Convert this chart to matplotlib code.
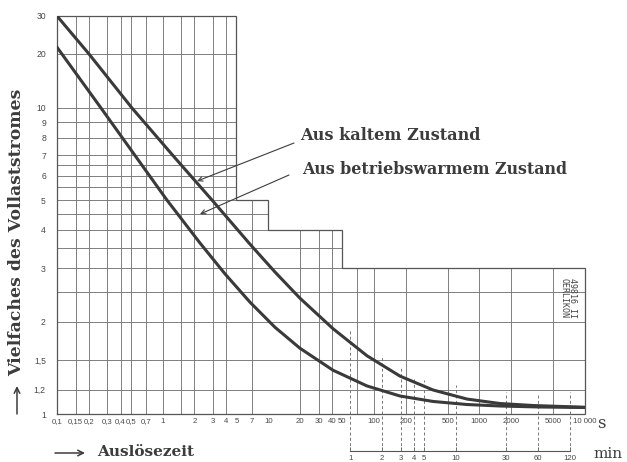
import numpy as np
import matplotlib
matplotlib.use("Agg")
import matplotlib.pyplot as plt
from matplotlib.ticker import FixedLocator, FixedFormatter, NullLocator

# trip time (s) vs multiple of full-load current
t_cold = [0.1, 0.201, 0.513, 1.31, 2.94, 6.72, 11.6, 20.0, 41.1, 86.2, 177, 364, 763,
          1567, 3219, 10000]
i_cold = [30, 20, 10, 6.87, 5.0, 3.59, 2.91, 2.39, 1.90, 1.55, 1.33, 1.198, 1.119,
          1.082, 1.066, 1.052]
t_warm = [0.1, 0.261, 1.10, 2.26, 3.90, 6.72, 11.6, 20.0, 41.1, 86.2, 177, 364, 763,
          1567, 3750, 10000]
i_warm = [21.5, 10, 5.0, 3.62, 2.87, 2.32, 1.92, 1.64, 1.39, 1.235, 1.145, 1.099, 1.074,
          1.062, 1.054, 1.050]

# staircase-shaped grid: region edges (s) and the top of each region
edges = [0.1, 5, 10, 50, 10000]
tops = [30, 5, 4, 3]
x_grid = [0.15, 0.2, 0.3, 0.4, 0.5, 0.7, 1, 1.5, 2, 3, 4, 7, 20, 30, 40, 70,
          100, 200, 500, 1000, 2000, 5000]
y_grid = [1.2, 1.5, 2, 2.5, 3, 3.5, 4, 4.5, 5, 5.5, 6, 6.5, 7, 8, 9, 10, 20]

x_ticks = [0.1, 0.15, 0.2, 0.3, 0.4, 0.5, 0.7, 1, 2, 3, 4, 5, 7, 10, 20, 30, 40, 50,
           100, 200, 500, 1000, 2000, 5000, 10000]
x_labels = ["0,1", "0,15", "0,2", "0,3", "0,4", "0,5", "0,7", "1", "2", "3", "4", "5",
            "7", "10", "20", "30", "40", "50", "100", "200", "500", "1000", "2000",
            "5000", "10 000"]
y_ticks = [1, 1.2, 1.5, 2, 3, 4, 5, 6, 7, 8, 9, 10, 20, 30]
y_labels = ["1", "1,2", "1,5", "2", "3", "4", "5", "6", "7", "8", "9", "10", "20", "30"]

# minute scale below the seconds scale
minutes = [1, 2, 3, 4, 5, 10, 30, 60, 120]
minute_labels = ["1", "2", "3", "4", "5", "10", "30", "60", "120"]
minute_line_tops = [1.88, 1.56, 1.41, 1.32, 1.29, 1.24, 1.18, 1.17, 1.18]

# the printed current scale is logarithmic up to 10, compressed above
scale_log = np.log10([1, 10, 20, 30])
scale_pos = np.array([0, 306, 360, 398], float)
HI_SLOPE = (scale_pos[-1] - scale_pos[-2]) / (scale_log[-1] - scale_log[-2])


def y_forward(v):
    lv = np.log10(np.clip(np.asarray(v, float), 1e-6, None))
    out = np.interp(lv, scale_log, scale_pos)
    out = np.where(lv < 0, lv * 306, out)
    return np.where(lv > scale_log[-1], scale_pos[-1] + (lv - scale_log[-1]) * HI_SLOPE, out)


def y_inverse(p):
    p = np.asarray(p, float)
    lv = np.interp(p, scale_pos, scale_log)
    lv = np.where(p < 0, p / 306, lv)
    lv = np.where(p > scale_pos[-1], scale_log[-1] + (p - scale_pos[-1]) / HI_SLOPE, lv)
    return 10 ** lv


def top_at(x):
    t = 0
    for lo, hi, top in zip(edges[:-1], edges[1:], tops):
        if lo <= x <= hi:
            t = max(t, top)
    return t


def right_end(level):
    r = edges[0]
    for hi, top in zip(edges[1:], tops):
        if top >= level:
            r = hi
    return r


W, H = 627, 462
fig = plt.figure(figsize=(W / 100, H / 100), dpi=100)
fig.patch.set_facecolor("white")

left, right, top, bottom = 57, 585, 16, 414
ax = fig.add_axes([left / W, 1 - bottom / H, (right - left) / W, (bottom - top) / H])
ax.set_xscale("log")
ax.set_yscale("function", functions=(y_forward, y_inverse))
ax.set_xlim(edges[0], edges[-1])
ax.set_ylim(1, tops[0])
for s in ax.spines.values():
    s.set_visible(False)
ax.patch.set_alpha(0)

grid_c = "#767676"
curve_c = "#3a3a3a"
text_c = "#3c3c3c"

# grid
ax.vlines(x_grid, 1, [top_at(x) for x in x_grid], color=grid_c, lw=0.65)
ax.hlines(y_grid, edges[0], [right_end(y) for y in y_grid], color=grid_c, lw=0.65)

# staircase outline
ox, oy = [edges[0]], [1]
for lo, hi, t in zip(edges[:-1], edges[1:], tops):
    ox += [lo, hi]
    oy += [t, t]
ox += [edges[-1], edges[0]]
oy += [1, 1]
ax.plot(ox, oy, color="#555555", lw=0.9, clip_on=False, solid_joinstyle="miter")

# dashed minute marks
min_s = [m * 60 for m in minutes]
ax.vlines(min_s, 1, minute_line_tops, color=grid_c, lw=0.7, linestyles=(0, (3, 2.5)),
          clip_on=False)

# curves
ax.plot(t_cold, i_cold, color=curve_c, lw=2.2, solid_joinstyle="round")
ax.plot(t_warm, i_warm, color=curve_c, lw=2.2, solid_joinstyle="round")

# ticks
ax.xaxis.set_major_locator(FixedLocator(x_ticks))
ax.xaxis.set_major_formatter(FixedFormatter(x_labels))
ax.xaxis.set_minor_locator(NullLocator())
ax.yaxis.set_major_locator(FixedLocator(y_ticks))
ax.yaxis.set_major_formatter(FixedFormatter(y_labels))
ax.yaxis.set_minor_locator(NullLocator())
ax.tick_params(axis="both", length=0, labelcolor="#484848")
ax.tick_params(axis="x", pad=3, labelsize=5.6)
ax.tick_params(axis="y", pad=8, labelsize=6.2)
for lab in ax.get_xticklabels() + ax.get_yticklabels():
    lab.set_family("Liberation Sans")

# minute axis
axm = fig.add_axes([left / W, 1 - 451 / H, (right - left) / W, (451 - bottom) / H])
axm.set_xscale("log")
axm.set_xlim(edges[0], edges[-1])
axm.set_ylim(0, 1)
axm.patch.set_alpha(0)
for k in ["top", "left", "right"]:
    axm.spines[k].set_visible(False)
axm.spines["bottom"].set_bounds(min_s[0], min_s[-1])
axm.spines["bottom"].set_color("#555555")
axm.spines["bottom"].set_linewidth(0.8)
axm.vlines(min_s, 0, 1, color=grid_c, lw=0.7, linestyles=(0, (3, 2.5)))
axm.xaxis.set_major_locator(FixedLocator(min_s))
axm.xaxis.set_major_formatter(FixedFormatter(minute_labels))
axm.xaxis.set_minor_locator(NullLocator())
axm.set_yticks([])
axm.tick_params(axis="x", direction="in", length=3, width=0.7, color="#555555",
                labelsize=5.6, labelcolor="#484848", pad=3)
for lab in axm.get_xticklabels():
    lab.set_family("Liberation Sans")

# texts
serif = dict(family="DejaVu Serif", weight="bold", color=text_c)
fig.text(300 / W, 1 - 136 / H, "Aus kaltem Zustand", fontsize=11.6, va="center", **serif)
fig.text(302 / W, 1 - 169 / H, "Aus betriebswarmem Zustand", fontsize=11.4,
         va="center", **serif)
arrow_kw = dict(arrowstyle="->", lw=0.8, color=text_c, shrinkA=0, shrinkB=0,
                mutation_scale=8)
ax.annotate("", xy=(2.12, 5.77), xytext=(294 / W, 1 - 143 / H),
            textcoords="figure fraction", arrowprops=arrow_kw)
ax.annotate("", xy=(2.26, 4.5), xytext=(289 / W, 1 - 175 / H),
            textcoords="figure fraction", arrowprops=arrow_kw)

fig.text(97 / W, 1 - 452 / H, "Auslösezeit", fontsize=11, va="center", **serif)
fig.text(17 / W, 1 - 232 / H, "Vielfaches des Vollaststromes", fontsize=12.4,
         rotation=90, ha="center", va="center", **serif)
big_arrow = dict(arrowstyle="->", lw=1.1, color=text_c, shrinkA=0, shrinkB=0,
                 mutation_scale=10)
ax.annotate("", xy=(85 / W, 1 - 453 / H), xytext=(55 / W, 1 - 453 / H),
            xycoords="figure fraction", textcoords="figure fraction",
            arrowprops=big_arrow, annotation_clip=False)
ax.annotate("", xy=(17 / W, 1 - 386 / H), xytext=(17 / W, 1 - 414 / H),
            xycoords="figure fraction", textcoords="figure fraction",
            arrowprops=big_arrow, annotation_clip=False)

fig.text(597 / W, 1 - 423 / H, "s", fontsize=12, va="center", family="DejaVu Serif",
         color=text_c)
fig.text(593 / W, 1 - 454 / H, "min", fontsize=11, va="center", family="DejaVu Serif",
         color=text_c)

mono = dict(family="DejaVu Sans Mono", fontsize=6, color="#444444", rotation=-90,
            ha="center", va="center")
fig.text(564 / W, 1 - 298 / H, "OERLIKON", **mono)
fig.text(573 / W, 1 - 298 / H, "49816 II", **mono)

fig.savefig("out.png", dpi=100)
